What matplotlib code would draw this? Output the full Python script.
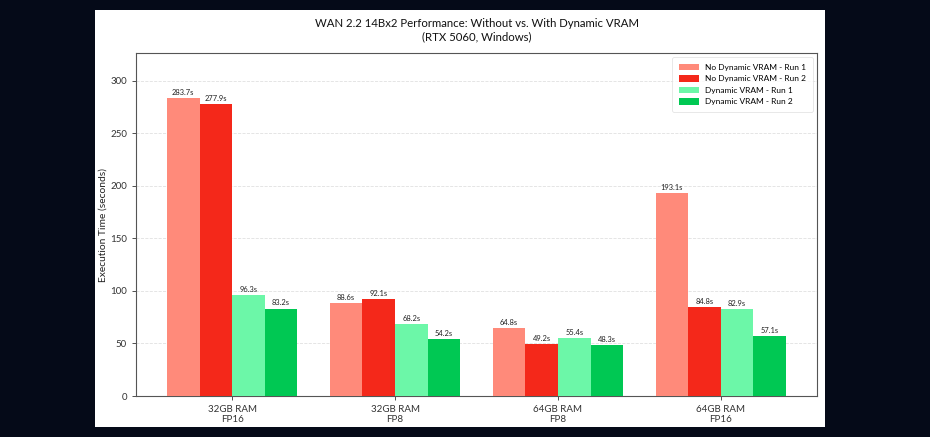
import matplotlib
matplotlib.use("Agg")
import matplotlib.pyplot as plt
import numpy as np
from matplotlib.patches import Rectangle

plt.rcParams['font.family'] = ['Lato', 'DejaVu Sans']

categories = ["32GB RAM\nFP16", "32GB RAM\nFP8", "64GB RAM\nFP8", "64GB RAM\nFP16"]
series_names = ["No Dynamic VRAM - Run 1", "No Dynamic VRAM - Run 2",
                "Dynamic VRAM - Run 1", "Dynamic VRAM - Run 2"]
no_dyn_run1 = [283.7, 88.6, 64.8, 193.1]
no_dyn_run2 = [277.9, 92.1, 49.2, 84.8]
dyn_run1 = [96.3, 68.2, 55.4, 82.9]
dyn_run2 = [83.2, 54.2, 48.3, 57.1]
colors = ["#FF8A7A", "#F4281A", "#6CF7A8", "#00C853"]

W, H = 930, 437
fig = plt.figure(figsize=(W/100, H/100), dpi=100)
fig.patch.set_facecolor("#050a18")
bg = Rectangle((95/W, 1 - 427/H), (825-95)/W, (427-10)/H,
               transform=fig.transFigure, facecolor="white",
               edgecolor="none", zorder=-10)
fig.add_artist(bg)

ax = fig.add_axes([136/W, 1 - 396/H, (817-136)/W, (396-53)/H])
ax.set_zorder(1)
ax.set_facecolor("white")

x = np.arange(len(categories))
width = 0.2
all_series = [no_dyn_run1, no_dyn_run2, dyn_run1, dyn_run2]
for i, (vals, name, c) in enumerate(zip(all_series, series_names, colors)):
    bars = ax.bar(x + (i - 1.5) * width, vals, width, label=name, color=c, zorder=3)
    for b, v in zip(bars, vals):
        ax.text(b.get_x() + b.get_width() / 2, v + 2, f"{v}s",
                ha="center", va="bottom", fontsize=5.4, color="#222222", zorder=4)

ax.set_ylim(0, max(no_dyn_run1) * 1.15)
ax.set_xticks(x)
ax.set_xticklabels(categories, fontsize=7, linespacing=1.15)
ax.tick_params(axis="y", labelsize=7, length=3, width=0.6, colors="#333333")
ax.tick_params(axis="x", length=3, width=0.6, colors="#333333")
ax.set_ylabel("Execution Time (seconds)", fontsize=7.4, color="#222222", labelpad=2)
ax.set_title("WAN 2.2 14Bx2 Performance: Without vs. With Dynamic VRAM\n(RTX 5060, Windows)",
             fontsize=8.2, pad=9, color="#111111", linespacing=1.3)
ax.yaxis.grid(True, linestyle="--", color="#cccccc", alpha=0.6, linewidth=0.6, zorder=0)
ax.set_axisbelow(True)
for s in ax.spines.values():
    s.set_color("#555555")
    s.set_linewidth(0.8)

leg = ax.legend(loc="upper right", fontsize=6.0, frameon=True, handlelength=2.5,
                handleheight=0.85, borderpad=0.8, labelspacing=0.5,
                handletextpad=0.7, borderaxespad=0.5)
leg.get_frame().set_edgecolor("#dddddd")
leg.get_frame().set_linewidth(0.6)

fig.savefig("out.png", dpi=100, facecolor=fig.get_facecolor())
